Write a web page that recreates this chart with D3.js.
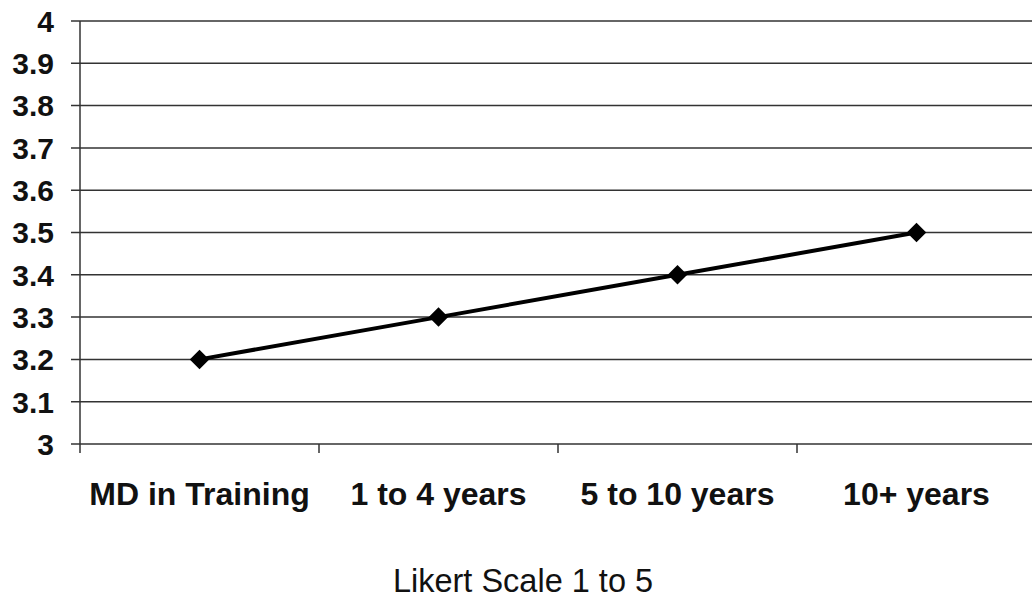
<!DOCTYPE html>
<html>
<head>
<meta charset="utf-8">
<script src="https://d3js.org/d3.v7.min.js"></script>
<style>
  html, body { margin: 0; padding: 0; background: #fff; }
  svg { display: block; font-family: 'Liberation Sans', Arial, sans-serif; }
</style>
</head>
<body>
<svg id="chart" width="1032" height="601"></svg>
<script>
const categories = ['MD in Training', '1 to 4 years', '5 to 10 years', '10+ years'];
const values = [3.2, 3.3, 3.4, 3.5];
const yTicks = [3, 3.1, 3.2, 3.3, 3.4, 3.5, 3.6, 3.7, 3.8, 3.9, 4];
const axisTitle = 'Likert Scale 1 to 5';

const svg = d3.select('#chart');
const plotLeft = 80, plotRight = 1036, plotTop = 21, plotBottom = 444;

const x = d3.scaleBand().domain(categories).range([plotLeft, plotRight]);
const y = d3.scaleLinear().domain([3, 4]).range([plotBottom, plotTop]);

// gridlines
svg.append('g').selectAll('line').data(yTicks).join('line')
  .attr('x1', plotLeft - 9).attr('x2', 1032)
  .attr('y1', d => y(d)).attr('y2', d => y(d))
  .attr('stroke', '#333').attr('stroke-width', 1.5);

// y axis line
svg.append('line')
  .attr('x1', plotLeft).attr('x2', plotLeft).attr('y1', plotTop).attr('y2', plotBottom + 9)
  .attr('stroke', '#333').attr('stroke-width', 1.5);

// x category tick marks
svg.append('g').selectAll('line').data(categories.slice(1)).join('line')
  .attr('x1', d => x(d)).attr('x2', d => x(d))
  .attr('y1', plotBottom).attr('y2', plotBottom + 9)
  .attr('stroke', '#333').attr('stroke-width', 1.5);

// y labels
svg.append('g').selectAll('text').data(yTicks).join('text')
  .attr('x', 54).attr('y', d => y(d)).attr('dy', '0.36em')
  .attr('text-anchor', 'end').attr('font-size', 30).attr('font-weight', 'bold')
  .attr('fill', '#111')
  .text(d => d === 3 || d === 4 ? d : d.toFixed(1));

// category labels
svg.append('g').selectAll('text').data(categories).join('text')
  .attr('x', d => x(d) + x.bandwidth() / 2).attr('y', 505)
  .attr('text-anchor', 'middle').attr('font-size', 32).attr('font-weight', 'bold')
  .attr('fill', '#111')
  .text(d => d);

// axis title
svg.append('text')
  .attr('x', 523).attr('y', 592)
  .attr('text-anchor', 'middle').attr('font-size', 32.5)
  .attr('fill', '#111')
  .text(axisTitle);

// line
const pts = categories.map((c, i) => [x(c) + x.bandwidth() / 2, y(values[i])]);
svg.append('path')
  .attr('d', d3.line()(pts))
  .attr('fill', 'none').attr('stroke', '#000').attr('stroke-width', 4);

// markers
svg.append('g').selectAll('path').data(pts).join('path')
  .attr('d', d3.symbol().type(d3.symbolSquare).size(190))
  .attr('transform', d => `translate(${d[0]},${d[1]}) rotate(45)`)
  .attr('fill', '#000');
</script>
</body>
</html>
